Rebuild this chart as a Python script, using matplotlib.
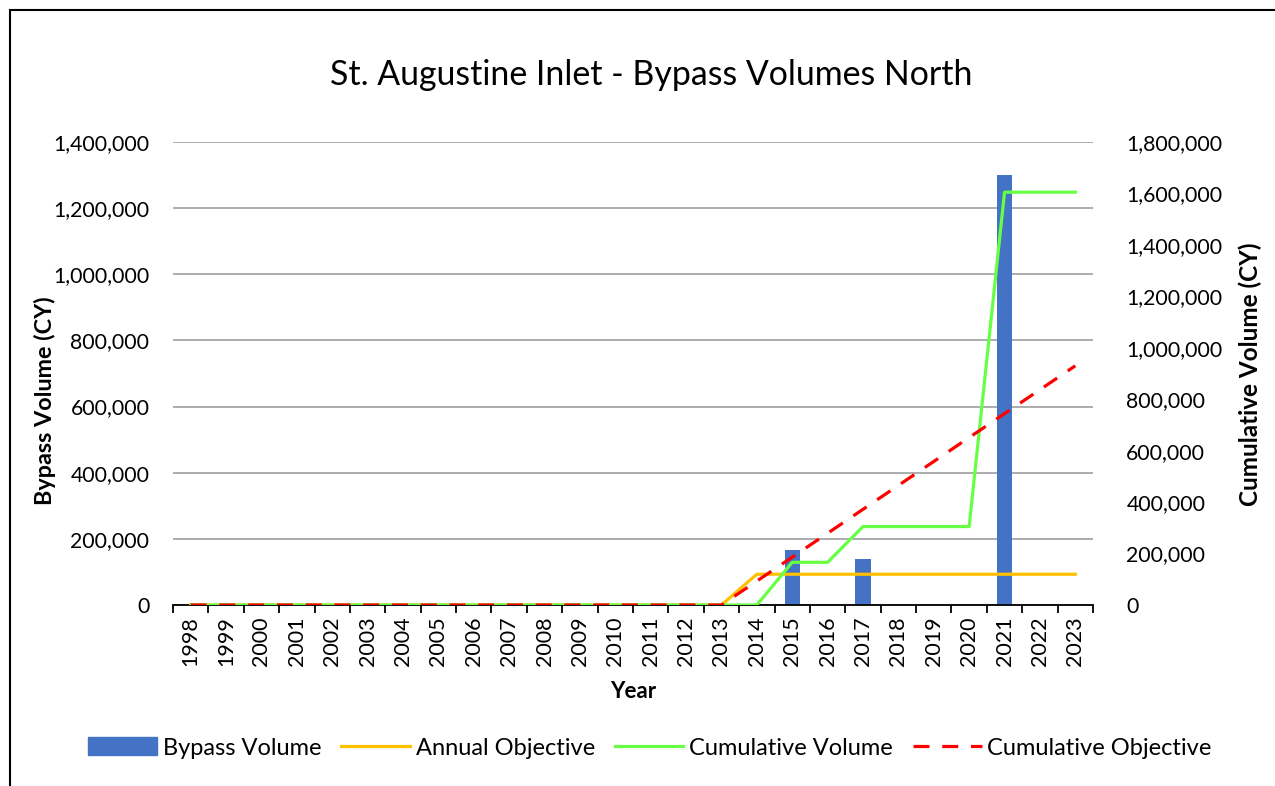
import matplotlib
matplotlib.use("Agg")
import matplotlib.pyplot as plt
from matplotlib.patches import Rectangle
from matplotlib.lines import Line2D
from matplotlib.patches import Patch
from matplotlib.ticker import FuncFormatter, MultipleLocator

plt.rcParams['font.family'] = ['Lato', 'DejaVu Sans']

years = [str(y) for y in range(1998, 2024)]
bypass_volume = [0]*17 + [166000, 0, 139000, 0, 0, 0, 1300000, 0, 0]
annual_objective = [0]*16 + [93000]*10
cumulative_volume = [0]*17 + [166000, 166000, 305000, 305000, 305000, 305000, 1605000, 1605000, 1605000]
cumulative_objective = [0]*16 + [93000, 186000, 279000, 372000, 465000, 558000, 651000, 744000, 837000, 930000]

W, H = 1275, 786
fig = plt.figure(figsize=(W/100, H/100), dpi=100)
ax = fig.add_axes([173/W, 1-605/H, (1093-173)/W, (605-142)/H])
ax2 = ax.twinx()

x = list(range(len(years)))
ax.bar(x, bypass_volume, width=0.43, color='#4472C4', zorder=2)
ax.plot(x, annual_objective, color='#FFC000', lw=2.3, zorder=3)
ax2.plot(x, cumulative_volume, color='#66FF44', lw=2.3, zorder=3)
ax2.plot(x, cumulative_objective, color='#FF0000', lw=2.3, dashes=(5, 4), zorder=4)

ax.set_xlim(-0.5, len(years)-0.5)
ax.set_ylim(0, 1400000)
ax2.set_ylim(0, 1800000)
ax.yaxis.set_major_locator(MultipleLocator(200000))
ax2.yaxis.set_major_locator(MultipleLocator(200000))
fmt = FuncFormatter(lambda v, p: f"{int(v):,}")
ax.yaxis.set_major_formatter(fmt)
ax2.yaxis.set_major_formatter(fmt)
ax.grid(axis='y', color='#A6A6A6', lw=1.3, zorder=0)
ax.set_axisbelow(True)

for a in (ax, ax2):
    for s in ('left', 'right', 'top', 'bottom'):
        a.spines[s].set_visible(False)
ax.spines['bottom'].set_visible(True)
ax.spines['bottom'].set_color('black')
ax.spines['bottom'].set_linewidth(1.3)

ax.set_xticks(x)
ax.set_xticklabels(years, rotation=90, fontsize=15.5)
ax.tick_params(axis='x', length=0, pad=8)
ax.set_xticks([i - 0.5 for i in range(len(years)+1)], minor=True)
ax.tick_params(axis='x', which='minor', length=6, width=1.3, color='black')
ax.tick_params(axis='y', length=0, labelsize=15.3, pad=17)
ax2.tick_params(axis='y', length=0, labelsize=15.3, pad=24)

ax.set_ylabel('Bypass Volume (CY)', fontsize=16.8, fontweight='bold')
ax.yaxis.set_label_coords((45-173)/920, (605-401)/463)
ax2.set_ylabel('Cumulative Volume (CY)', fontsize=17.5, fontweight='bold')
ax2.yaxis.set_label_coords((1250-173)/920, (605-374)/463)
ax.set_xlabel('Year', fontsize=16, fontweight='bold')
ax.xaxis.set_label_coords((633-173)/920, (605-692)/463)
ax.xaxis.label.set_va('center')
ax.yaxis.label.set_va('center')
ax2.yaxis.label.set_va('center')

fig.text(651/W, 1-75/H, 'St. Augustine Inlet - Bypass Volumes North', fontsize=24.4,
         ha='center', va='center')

handles = [Patch(color='#4472C4'),
           Line2D([], [], color='#FFC000', lw=2.3),
           Line2D([], [], color='#66FF44', lw=2.3),
           Line2D([], [], color='#FF0000', lw=2.3, dashes=(5, 4))]
labels = ['Bypass Volume', 'Annual Objective', 'Cumulative Volume', 'Cumulative Objective']
fig.legend(handles, labels, loc='center', bbox_to_anchor=(650/W, 1-748/H), ncol=4,
           frameon=False, fontsize=17, handlelength=2.9, handletextpad=0.25,
           columnspacing=0.85, handleheight=0.8)

fig.patches.append(Rectangle((10/W, -0.05), 1.2, 1-10/H + 0.05, transform=fig.transFigure,
                             fill=False, edgecolor='black', lw=1.5))

fig.savefig('out.png', dpi=100)
